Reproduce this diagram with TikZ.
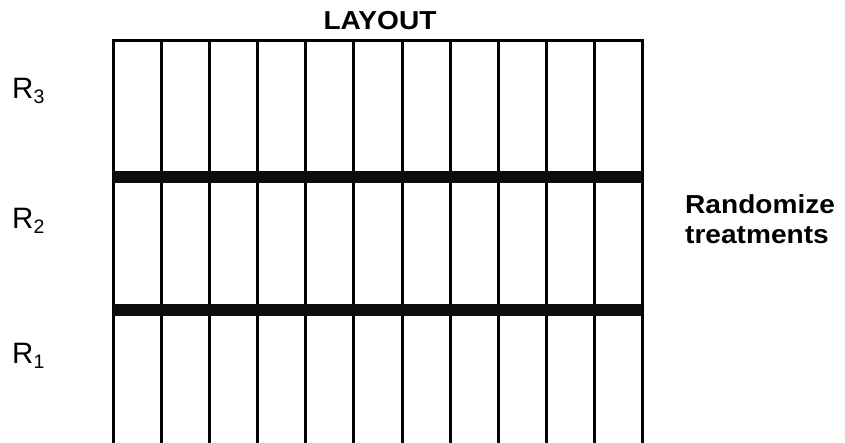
\documentclass[tikz,border=0pt]{standalone}
\usepackage{fontspec}
\setmainfont{Liberation Sans}
\tikzset{
  thin line/.style={line width=3pt, line cap=rect, black},
  bar/.style={fill=black!95, draw=none},
  reps/.style={inner sep=0pt, anchor=base west, font=\fontsize{29.5}{34}\selectfont},
  headtext/.style={inner sep=0pt, font=\bfseries\fontsize{26}{30}\selectfont},
}
\newcommand{\repl}[1]{R\raisebox{-5pt}{\fontsize{19.5}{22}\selectfont #1}}
\newcommand{\wide}[1]{\scalebox{1.08}[1]{#1}}
\begin{document}
\begin{tikzpicture}[x=1pt,y=-1pt]
\useasboundingbox (0,0) rectangle (845,443);
% grid
\draw[thin line] (113.3,443) -- (113.3,41) -- (642.7,41) -- (642.7,443);
\foreach \i in {1,...,10}{
  \draw[line width=3pt] ({113.3+\i*48.13},41) -- ({113.3+\i*48.13},443);
}
\fill[bar] (113.3,171.5) rectangle (641.5,183.5);
\fill[bar] (113.3,303.5) rectangle (641.5,315.5);
% labels
\node[headtext, anchor=base] (layout) at (380,30) {\wide{LAYOUT}};
\node[reps] (r3) at (12,98.3) {\repl{3}};
\node[reps] (r2) at (12,229) {\repl{2}};
\node[reps] (r1) at (12,363) {\repl{1}};
\node[headtext, anchor=base west] (rand) at (685,213.3) {\wide{Randomize}};
\node[headtext, anchor=base west] (treat) at (685,243.3) {\wide{treatments}};
\end{tikzpicture}
\end{document}
